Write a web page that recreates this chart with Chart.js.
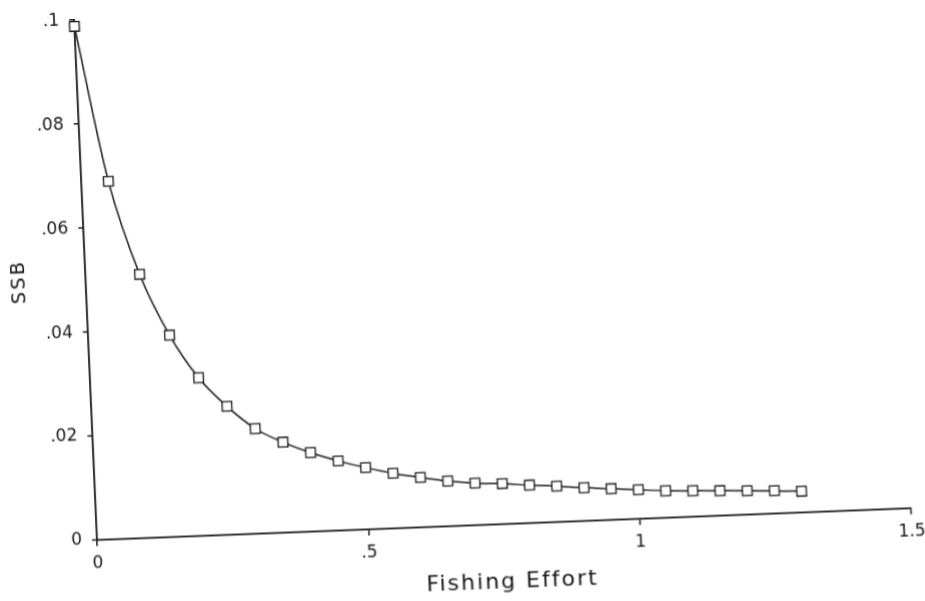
<!DOCTYPE html>
<html>
<head>
<meta charset="utf-8">
<script src="https://cdn.jsdelivr.net/npm/chart.js@4"></script>
<style>
  html, body { margin: 0; padding: 0; background: #fff; overflow: hidden; }
  /* the scanned page is slightly skewed: x axis rises to the right, y axis leans left */
  #chartSsb {
    position: absolute; left: 0; top: 0;
    transform-origin: 97px 540px;
    transform: matrix(1, -0.039, 0.044, 1, 0, 0);
  }
</style>
</head>
<body>
<canvas id="chartSsb" width="940" height="650"></canvas>
<script>
  "use strict";

  const X_TITLE = "Fishing Effort";
  const Y_TITLE = "SSB";

  const effort = [
    0, 0.05, 0.1, 0.15, 0.2, 0.25, 0.3, 0.35, 0.4, 0.45,
    0.5, 0.55, 0.6, 0.65, 0.7, 0.75, 0.8, 0.85, 0.9, 0.95,
    1, 1.05, 1.1, 1.15, 1.2, 1.25, 1.3
  ];
  const ssb = [
    0.0988, 0.0688, 0.0507, 0.0388, 0.0304, 0.0247, 0.0202, 0.0174, 0.0152, 0.0134,
    0.0119, 0.0106, 0.0096, 0.0087, 0.0081, 0.0078, 0.0073, 0.0069, 0.0064, 0.0060,
    0.0056, 0.0052, 0.0050, 0.0048, 0.0046, 0.0044, 0.0041
  ];

  const xTickValues = [0, 0.5, 1, 1.5];
  const xTickLabels = ["0", ".5", "1", "1.5"];
  const yTickValues = [0, 0.02, 0.04, 0.06, 0.08, 0.1];
  const yTickLabels = ["0", ".02", ".04", ".06", ".08", ".1"];

  const INK = "#161616";
  const FONT = "'DejaVu Sans', sans-serif";

  // axis titles drawn by hand so they sit where the plotter put them
  const axisTitles = {
    id: "axisTitles",
    afterDraw(chart) {
      const { ctx, chartArea: a } = chart;
      ctx.save();
      ctx.fillStyle = INK;
      ctx.textAlign = "center";
      ctx.textBaseline = "middle";
      ctx.font = "22px " + FONT;
      ctx.letterSpacing = "2px";
      ctx.fillText(X_TITLE, a.left + 413, a.bottom + 58);
      ctx.font = "19px " + FONT;
      ctx.letterSpacing = "2.5px";
      ctx.translate(a.left - 66, a.top + 259);
      ctx.rotate(-Math.PI / 2);
      ctx.fillText(Y_TITLE, 0, 0);
      ctx.restore();
    }
  };

  new Chart(document.getElementById("chartSsb"), {
    type: "line",
    data: {
      datasets: [{
        data: effort.map((x, i) => ({ x, y: ssb[i] })),
        borderColor: INK,
        borderWidth: 1.5,
        cubicInterpolationMode: "monotone",
        pointStyle: "rect",
        pointRadius: 6.8,
        pointBorderWidth: 1.3,
        pointBorderColor: INK,
        pointBackgroundColor: "#fff",
        clip: false
      }]
    },
    options: {
      responsive: false,
      animation: false,
      devicePixelRatio: 1,
      layout: { padding: { left: 0, top: 17, right: 29, bottom: 0 } },
      plugins: { legend: { display: false }, tooltip: { enabled: false } },
      scales: {
        x: {
          type: "linear",
          min: 0, max: 1.5,
          afterBuildTicks: s => { s.ticks = xTickValues.map(v => ({ value: v })); },
          afterFit: s => { s.height = 110; },
          border: { display: true, color: INK, width: 1.8 },
          grid: { display: true, drawOnChartArea: false, drawTicks: true, tickLength: 6, color: INK, lineWidth: 1.5 },
          ticks: {
            color: INK, padding: 7, maxRotation: 0,
            font: { family: FONT, size: 17 },
            callback: (v) => xTickLabels[xTickValues.indexOf(v)]
          }
        },
        y: {
          type: "linear",
          min: 0, max: 0.1,
          afterBuildTicks: s => { s.ticks = yTickValues.map(v => ({ value: v })); },
          afterFit: s => { s.width = 97; },
          border: { display: true, color: INK, width: 1.8 },
          grid: { display: true, drawOnChartArea: false, drawTicks: true, tickLength: 5, color: INK, lineWidth: 1.5 },
          ticks: {
            color: INK, padding: 10,
            font: { family: FONT, size: 17 },
            callback: (v) => yTickLabels[yTickValues.indexOf(v)]
          }
        }
      }
    },
    plugins: [axisTitles]
  });
</script>
</body>
</html>
